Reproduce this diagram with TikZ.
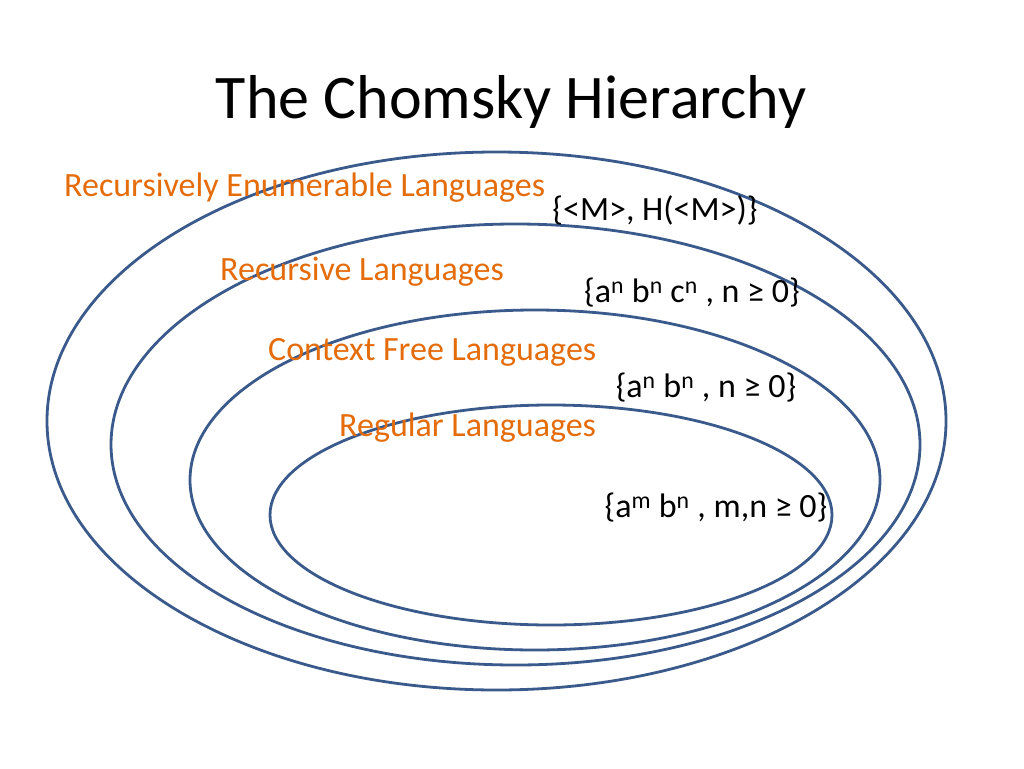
\documentclass[tikz,border=0pt]{standalone}
\usepackage{fontspec}
\setmainfont{Carlito}
\begin{document}
\begin{tikzpicture}[x=1pt,y=-1pt,
  ell/.style={draw={rgb,255:red,58;green,90;blue,140}, line width=2.8pt},
  lang/.style={text={rgb,255:red,228;green,108;blue,10}, font=\fontsize{34}{38}\selectfont, anchor=west, inner sep=0},
  ex/.style={font=\fontsize{34}{38}\selectfont, inner sep=0}]
\useasboundingbox (0,0) rectangle (1024,768);
\node[font=\fontsize{62}{70}\selectfont] (title) at (511,102) {The Chomsky Hierarchy};
\draw[ell] (496.5,421) ellipse [x radius=449.5, y radius=269];
\draw[ell] (515.5,444.5) ellipse [x radius=404.5, y radius=220.5];
\draw[ell] (535,480) ellipse [x radius=345, y radius=170];
\draw[ell] (551,515) ellipse [x radius=281, y radius=110];
\node[lang] (re) at (64,188) {Recursively Enumerable Languages};
\node[lang] (r) at (220,272) {Recursive Languages};
\node[lang] (cf) at (268,352) {Context Free Languages};
\node[lang] (reg) at (339,428) {Regular Languages};
\node[ex] (e1) at (655,210) {\{<M>, H(<M>)\}};
\node[ex] (e2) at (692,293) {\{a\textsuperscript{n} b\textsuperscript{n} c\textsuperscript{n} , n ≥ 0\}};
\node[ex] (e3) at (706,388) {\{a\textsuperscript{n} b\textsuperscript{n} , n ≥ 0\}};
\node[ex] (e4) at (716,508) {\{a\textsuperscript{m} b\textsuperscript{n} , m,n ≥ 0\}};
\end{tikzpicture}
\end{document}
